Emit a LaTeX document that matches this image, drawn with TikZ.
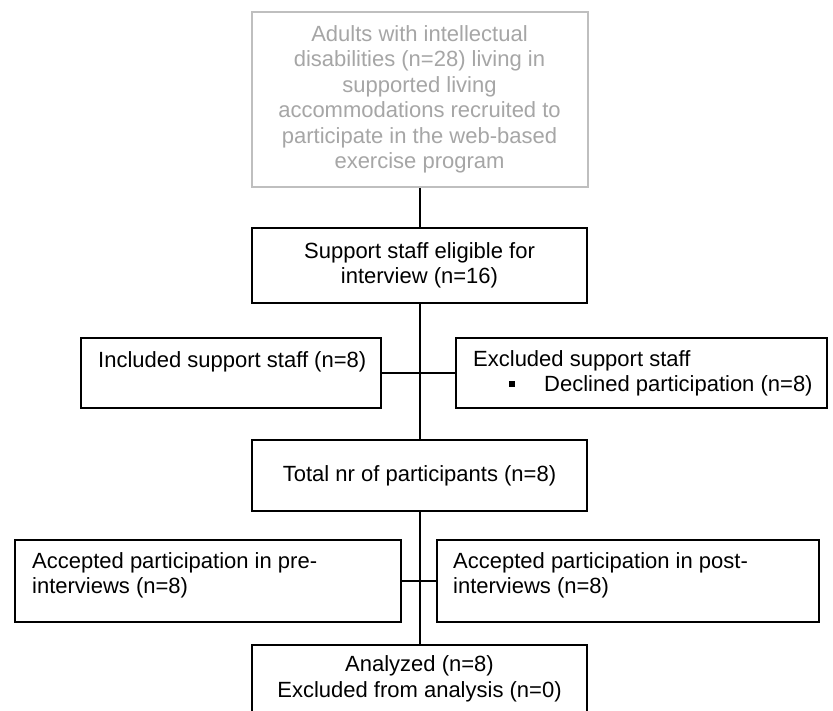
\documentclass[tikz,border=0pt]{standalone}
\usepackage{fontspec}
\setmainfont{Liberation Sans}
\definecolor{ltext}{HTML}{A6A6A6}
\definecolor{lborder}{HTML}{BFBFBF}
\begin{document}
\begin{tikzpicture}[x=1pt,y=1pt,
  fnt/.style={font=\fontsize{22}{25.5}\selectfont},
  box/.style={draw=black, line width=2pt, rectangle, inner sep=0pt, fnt, align=center},
  greybox/.style={draw=lborder, line width=2pt, rectangle, inner sep=0pt, fnt, align=center, text=ltext},
  txt/.style={fnt, inner sep=0pt, anchor=base west},
  bulletsq/.style={fill=black, draw=none, rectangle, inner sep=0pt, minimum width=6pt, minimum height=6pt},
  conn/.style={draw=black, line width=2pt}]
\useasboundingbox (0,0) rectangle (833,-710);
\clip (0,0) rectangle (833,-710);
\fill[white] (0,0) rectangle (833,-710);
% boxes
\node[greybox, minimum width=336pt, minimum height=175pt] (top) at (419.5,-99.5)
  {Adults with intellectual\\ disabilities (n=28) living in\\ supported living\\ accommodations recruited to\\ participate in the web-based\\ exercise program};
\node[box, minimum width=335pt, minimum height=75pt] (sup) at (419.5,-265.5)
  {Support staff eligible for\\ interview (n=16)};
\node[box, minimum width=300pt, minimum height=70pt] (inc) at (231,-372.5) {};
\node[box, minimum width=371pt, minimum height=70pt] (exc) at (641.5,-372.5) {};
\node[box, minimum width=335pt, minimum height=71pt] (tot) at (419.5,-475.5)
  {Total nr of participants (n=8)};
\node[box, minimum width=386pt, minimum height=82pt] (pre) at (208,-581) {};
\node[box, minimum width=382pt, minimum height=82pt] (post) at (628,-581) {};
\node[box, minimum width=335pt, minimum height=68pt] (ana) at (419.5,-679)
  {Analyzed (n=8)\\ Excluded from analysis (n=0)};
% texts
\node[txt] (incT) at (98,-367) {Included support staff (n=8)};
\node[txt] (excT1) at (473,-366) {Excluded support staff};
\node[bulletsq] (excB) at (512,-383.5) {};
\node[txt] (excT2) at (544,-391) {Declined participation (n=8)};
\node[txt] (preT1) at (32,-568) {Accepted participation in pre-};
\node[txt] (preT2) at (32,-593) {interviews (n=8)};
\node[txt] (postT1) at (453,-568) {Accepted participation in post-};
\node[txt] (postT2) at (453,-593) {interviews (n=8)};
% connectors
\draw[conn] (top.south) -- (sup.north);
\draw[conn] (sup.south) -- (tot.north);
\draw[conn] (inc.east) -- (exc.west);
\draw[conn] (tot.south) -- (ana.north);
\draw[conn] (pre.east) -- (post.west);
\end{tikzpicture}
\end{document}
